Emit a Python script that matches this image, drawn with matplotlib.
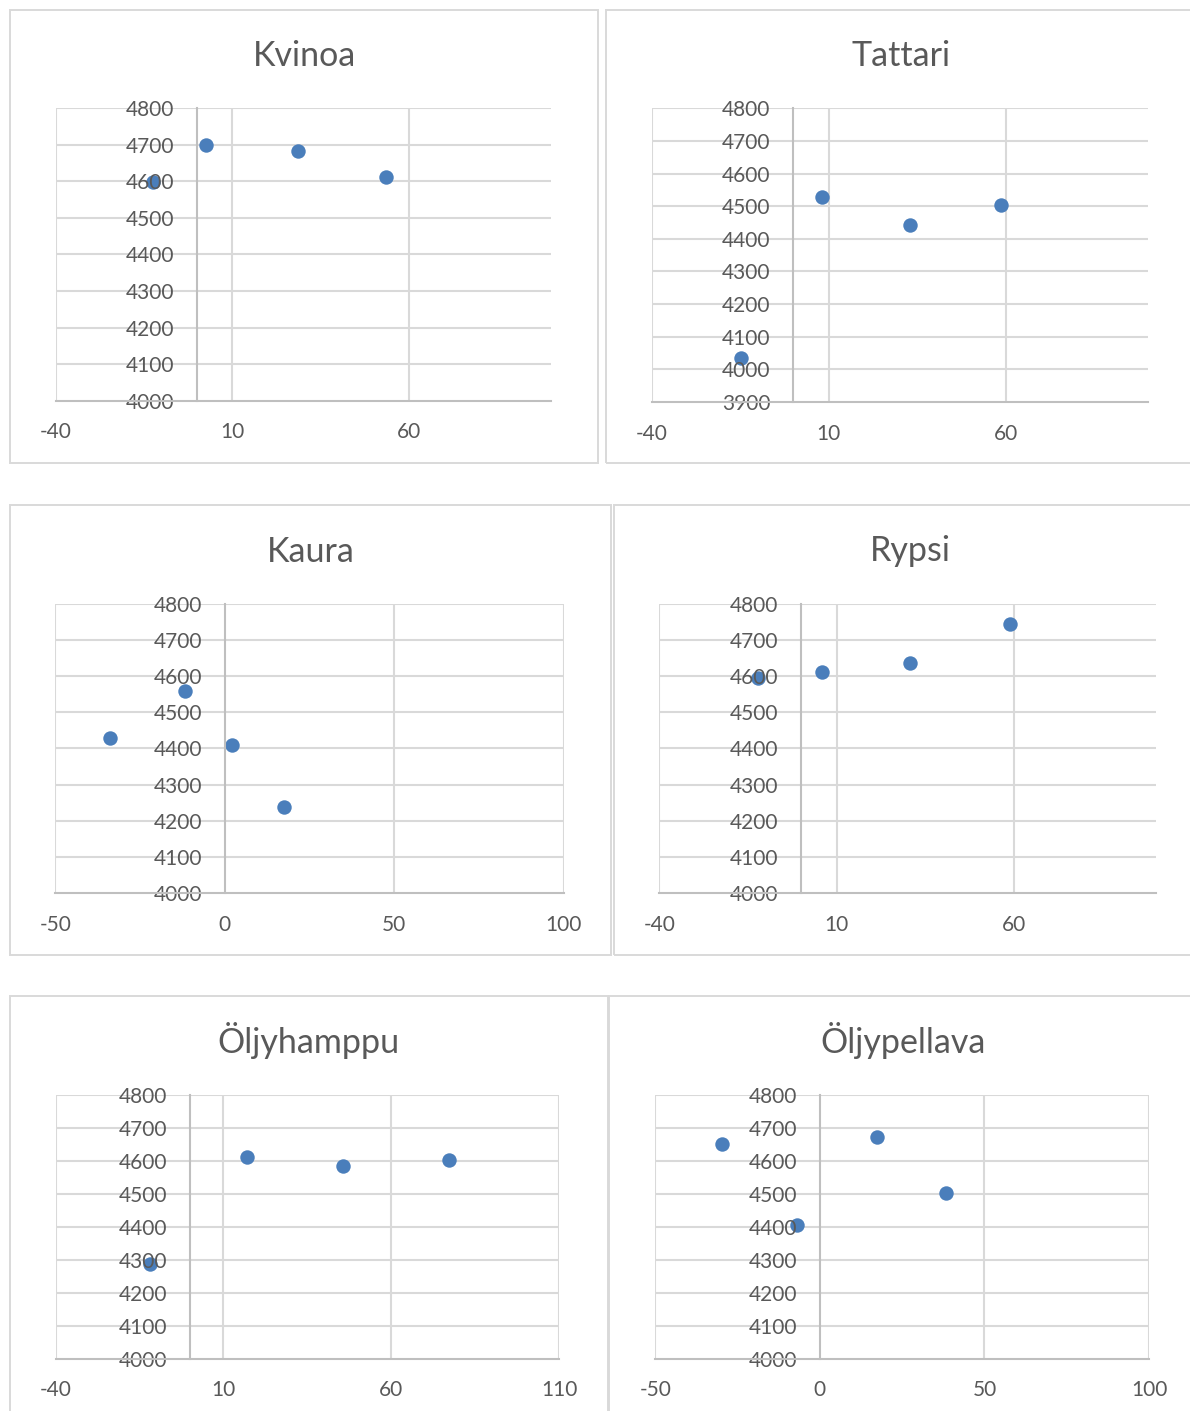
import matplotlib
matplotlib.use("Agg")
import matplotlib.pyplot as plt
from matplotlib.patches import Rectangle
import numpy as np

plt.rcParams['font.family'] = ['Lato', 'DejaVu Sans']
plt.rcParams['axes.unicode_minus'] = False

# ---- data -------------------------------------------------------------
kvinoa_x = [-12.4, 2.6, 28.6, 53.5]
kvinoa_y = [4599, 4699, 4684, 4611]

tattari_x = [-14.9, 8.2, 33.0, 58.6]
tattari_y = [4034, 4527, 4441, 4503]

kaura_x = [-33.9, -11.6, 2.3, 17.6]
kaura_y = [4430, 4559, 4411, 4239]

rypsi_x = [-12.2, 5.8, 30.6, 58.9]
rypsi_y = [4594, 4610, 4636, 4743]

oljyhamppu_x = [-12.0, 17.1, 45.7, 77.1]
oljyhamppu_y = [4287, 4612, 4585, 4605]

oljypellava_x = [-29.8, -7.1, 17.2, 38.2]
oljypellava_y = [4653, 4407, 4672, 4504]

titles = ["Kvinoa", "Tattari", "Kaura", "Rypsi", "Öljyhamppu", "Öljypellava"]
xs = [kvinoa_x, tattari_x, kaura_x, rypsi_x, oljyhamppu_x, oljypellava_x]
ys = [kvinoa_y, tattari_y, kaura_y, rypsi_y, oljyhamppu_y, oljypellava_y]

x_ticks = [[-40, 10, 60], [-40, 10, 60], [-50, 0, 50, 100],
           [-40, 10, 60], [-40, 10, 60, 110], [-50, 0, 50, 100]]
x_limits = [(-40, 100), (-40, 100), (-50, 100), (-40, 100), (-40, 110), (-50, 100)]
y_limits = [(4000, 4800), (3900, 4800), (4000, 4800), (4000, 4800), (4000, 4800), (4000, 4800)]

# ---- layout (pixels) --------------------------------------------------
W, H = 1190, 1411
panels = [(10.3, 10, 597.7, 462.7), (606.4, 10, 1200, 463.3),
          (9.8, 505, 610.6, 955), (613.7, 505, 1220, 955),
          (9.7, 996, 607.8, 1425), (608.7, 996, 1215, 1425)]
plots = [(55.5, 108.3, 550.6, 400.7), (651.7, 108.3, 1147.6, 402.0),
         (55.3, 603.7, 563.5, 893.3), (659.2, 603.7, 1155.7, 893.3),
         (55.6, 1095.3, 559.0, 1358.7), (655.4, 1095.3, 1149.0, 1358.7)]
title_pos = [(304.5, 66.5), (901, 66), (310.8, 561.7),
             (910, 561), (308, 1053), (903, 1053)]

TEXT = '#595959'
GRID = '#d9d9d9'
AXIS = '#bfbfbf'
DOT = '#4a7ebb'

fig = plt.figure(figsize=(W / 100, H / 100), dpi=100)
fig.patch.set_facecolor('white')

for (l, t, r, b) in panels:
    fig.add_artist(Rectangle((l / W, 1 - b / H), (r - l) / W, (b - t) / H,
                             transform=fig.transFigure, fill=False,
                             ec=GRID, lw=1.4))

for i in range(6):
    l, t, r, b = plots[i]
    ax = fig.add_axes([l / W, 1 - b / H, (r - l) / W, (b - t) / H])
    ax.set_xlim(*x_limits[i])
    ax.set_ylim(*y_limits[i])
    yt = np.arange(y_limits[i][0], y_limits[i][1] + 1, 100)
    ax.set_yticks(yt)
    ax.set_xticks(x_ticks[i])

    # gridlines beneath the markers
    for v in yt[1:]:
        ax.axhline(v, color=GRID, lw=1.5, zorder=0.5)
    for v in x_ticks[i]:
        if v != 0:
            ax.axvline(v, color=GRID, lw=1.5, zorder=0.5)

    ax.scatter(xs[i], ys[i], s=108, color=DOT, zorder=1.5, linewidths=0)

    for s in ['top', 'right']:
        ax.spines[s].set_visible(False)
    ax.spines['left'].set_position(('data', 0))
    ax.spines['left'].set_color(AXIS)
    ax.spines['bottom'].set_color(AXIS)
    ax.spines['left'].set_linewidth(1.5)
    ax.spines['bottom'].set_linewidth(1.5)
    ax.tick_params(axis='y', length=0, pad=16.5, labelsize=15, labelcolor=TEXT)
    ax.tick_params(axis='x', length=0, pad=15.5, labelsize=15, labelcolor=TEXT)
    ax.set_facecolor('none')

    tx, ty = title_pos[i]
    fig.text(tx / W, 1 - ty / H, titles[i], ha='center', va='baseline',
             fontsize=24.5, color=TEXT)

fig.savefig('out.png', dpi=100, facecolor='white')
